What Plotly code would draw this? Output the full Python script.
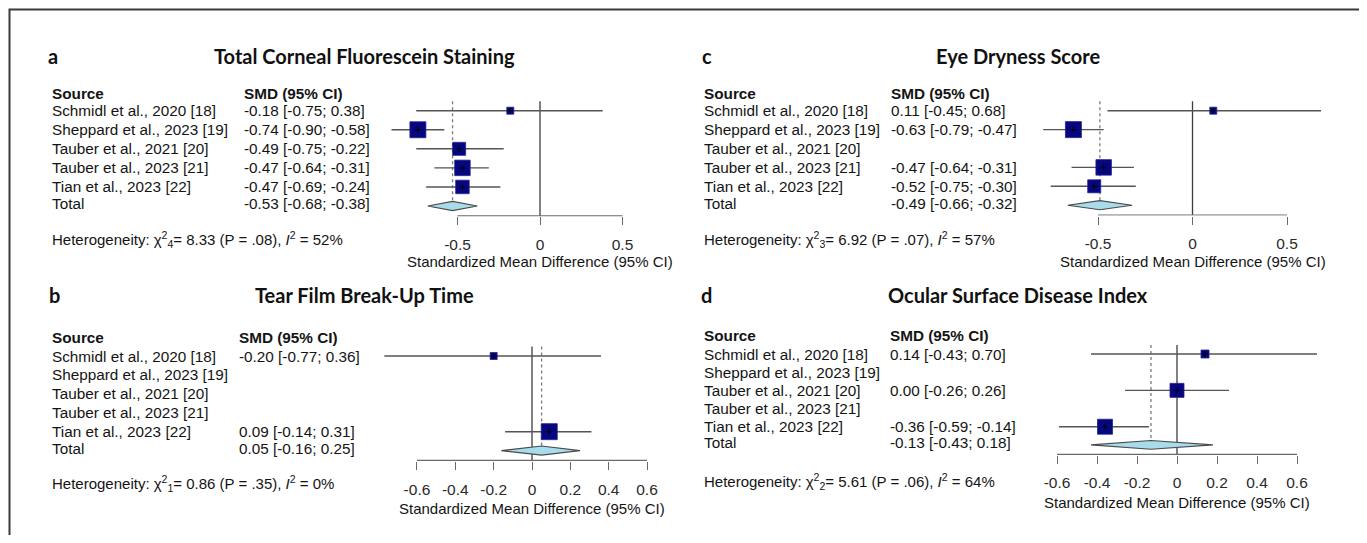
import plotly.graph_objects as go

# page has an 8px body margin: the figure is placed at (8, 8) in the 1367x543 window
OX, OY = 8, 8
W, H = 1359, 527

# ---------------- data ----------------
SOURCES = ["Schmidl et al., 2020 [18]", "Sheppard et al., 2023 [19]",
           "Tauber et al., 2021 [20]", "Tauber et al., 2023 [21]",
           "Tian et al., 2023 [22]"]

PANEL_LETTERS = ["a", "b", "c", "d"]
PANEL_TITLES = ["Total Corneal Fluorescein Staining", "Tear Film Break-Up Time",
                "Eye Dryness Score", "Ocular Surface Disease Index"]

# a: Total Corneal Fluorescein Staining
tcfs_smd = [-0.18, -0.74, -0.49, -0.47, -0.47]
tcfs_lo = [-0.75, -0.90, -0.75, -0.64, -0.69]
tcfs_hi = [0.38, -0.58, -0.22, -0.31, -0.24]
tcfs_total = [-0.53, -0.68, -0.38]

# b: Tear Film Break-Up Time
tbut_smd = [-0.20, None, None, None, 0.09]
tbut_lo = [-0.77, None, None, None, -0.14]
tbut_hi = [0.36, None, None, None, 0.31]
tbut_total = [0.05, -0.16, 0.25]

# c: Eye Dryness Score
eds_smd = [0.11, -0.63, None, -0.47, -0.52]
eds_lo = [-0.45, -0.79, None, -0.64, -0.75]
eds_hi = [0.68, -0.47, None, -0.31, -0.30]
eds_total = [-0.49, -0.66, -0.32]

# d: Ocular Surface Disease Index
osdi_smd = [0.14, None, 0.00, None, -0.36]
osdi_lo = [-0.43, None, -0.26, None, -0.59]
osdi_hi = [0.70, None, 0.26, None, -0.14]
osdi_total = [-0.13, -0.43, 0.18]

het_df = [4, 1, 3, 2]
het_chi2 = ["8.33", "0.86", "6.92", "5.61"]
het_p = [".08", ".35", ".07", ".06"]
het_i2 = [52, 0, 57, 64]

ticks_half = [-0.5, 0, 0.5]
ticks_half_text = ["-0.5", "0", "0.5"]
ticks_fifth = [-0.6, -0.4, -0.2, 0, 0.2, 0.4, 0.6]
ticks_fifth_text = ["-0.6", "-0.4", "-0.2", "0", "0.2", "0.4", "0.6"]

AXIS_TITLE = "Standardized Mean Difference (95% CI)"

DATA = [
    (tcfs_smd, tcfs_lo, tcfs_hi, tcfs_total, ticks_half, ticks_half_text),
    (tbut_smd, tbut_lo, tbut_hi, tbut_total, ticks_fifth, ticks_fifth_text),
    (eds_smd, eds_lo, eds_hi, eds_total, ticks_half, ticks_half_text),
    (osdi_smd, osdi_lo, osdi_hi, osdi_total, ticks_fifth, ticks_fifth_text),
]

# ---------------- layout / style (window pixel geometry) ----------------
GEOM = [
    dict(zero=540, k=165, xr=(-0.95, 0.85), row1=110.7, step=19.06,
         src_x=52, smd_x=244, head_y=93.3,
         title_y=56, title_cx=364, letter_x=48, het_y=239.5, ax_title_y=262,
         sq=[7, 16, 13, 15.5, 13.5]),
    dict(zero=532, k=191.7, xr=(-0.9, 0.75), row1=356, step=18.92,
         src_x=52, smd_x=239, head_y=337.7,
         title_y=295, title_cx=364, letter_x=49, het_y=483, ax_title_y=508,
         sq=[7, 0, 0, 0, 16]),
    dict(zero=1192.5, k=189, xr=(-0.85, 0.88), row1=110.7, step=18.9,
         src_x=704, smd_x=891, head_y=93.3,
         title_y=56, title_cx=1018, letter_x=702, het_y=239.5, ax_title_y=262,
         sq=[7, 16, 0, 15.5, 13]),
    dict(zero=1177, k=200, xr=(-0.66, 0.9), row1=354, step=18.18,
         src_x=704, smd_x=890, head_y=335,
         title_y=295, title_cx=1018, letter_x=701, het_y=481.7, ax_title_y=502,
         sq=[8, 0, 14, 0, 15]),
]

BODY_FONT = "Liberation Sans, Arial, sans-serif"
TITLE_FONT = "Lato, Liberation Sans, sans-serif"
TEXT_PAD = 2  # annotation inner padding
Y_TOP, Y_AXIS = 0.3, 6.52
Y_BOTTOM = 6.55

SQ_COLOR = "#06067e"
CI_COLOR = "#555555"
AXIS_COLOR = "#6a6a6a"
TEXT_COLOR = "#141414"


def px(x):
    return (x - OX) / W


def py(y):
    return 1 - (y - OY) / H


fig = go.Figure()
annotations = []
layout_axes = {}

for i, (smd, lo, hi, total, tv, tt) in enumerate(DATA):
    g = GEOM[i]
    n = "" if i == 0 else str(i + 1)
    xref, yref = "x" + n, "y" + n
    rows = list(range(1, len(SOURCES) + 1))

    L = g["zero"] + g["xr"][0] * g["k"]
    R = g["zero"] + g["xr"][1] * g["k"]
    top_px = g["row1"] + (Y_TOP - 1) * g["step"]
    bot_px = g["row1"] + (Y_BOTTOM - 1) * g["step"]

    layout_axes["xaxis" + n] = dict(
        domain=[px(L), px(R)], range=list(g["xr"]), anchor=yref,
        tickvals=tv, ticktext=tt, ticks="outside", ticklen=8, tickwidth=1.3,
        tickcolor=AXIS_COLOR, showline=False, showgrid=False, zeroline=False,
        tickfont=dict(family=BODY_FONT, size=15.5, color="#2a2a2a"),
        ticklabelstandoff=6, fixedrange=True)
    layout_axes["yaxis" + n] = dict(
        domain=[py(bot_px), py(top_px)], range=[Y_BOTTOM, Y_TOP], anchor=xref,
        visible=False, fixedrange=True)

    common = dict(xaxis=xref, yaxis=yref, showlegend=False, hoverinfo="skip",
                  cliponaxis=False)

    # zero line
    fig.add_trace(go.Scatter(x=[0, 0], y=[0.5, Y_AXIS], mode="lines",
                             line=dict(color="#3d3d3d", width=1.3), **common))
    # pooled estimate dotted line
    fig.add_trace(go.Scatter(x=[total[0], total[0]], y=[0.5, 6.2], mode="lines",
                             line=dict(color="#7a7a7a", width=1.3, dash="dot"),
                             **common))
    # CI lines
    cx, cy = [], []
    for r, l_, h_ in zip(rows, lo, hi):
        if l_ is None:
            continue
        cx += [l_, h_, None]
        cy += [r, r, None]
    fig.add_trace(go.Scatter(x=cx, y=cy, mode="lines",
                             line=dict(color=CI_COLOR, width=1.4), **common))
    # squares
    sx = [s for s in smd if s is not None]
    sy = [r for r, s in zip(rows, smd) if s is not None]
    ss = [g["sq"][j] for j, s in enumerate(smd) if s is not None]
    fig.add_trace(go.Scatter(x=sx, y=sy, mode="markers",
                             marker=dict(symbol="square", size=ss, color=SQ_COLOR,
                                         opacity=1,
                                         line=dict(color="#23238f", width=0.8)),
                             **common))
    fig.add_trace(go.Scatter(x=sx, y=sy, mode="markers",
                             marker=dict(symbol="cross-thin", size=4, opacity=1,
                                         line=dict(color="#000000", width=1)),
                             **common))
    # diamond for total
    est, tlo, thi = total
    dh = 0.24
    fig.add_trace(go.Scatter(x=[tlo, est, thi, est, tlo],
                             y=[6, 6 - dh, 6, 6 + dh, 6], mode="lines",
                             fill="toself", fillcolor="#a9dcea",
                             line=dict(color="#4a4a4a", width=1.1), **common))
    # axis line
    fig.add_trace(go.Scatter(x=[tv[0], tv[-1]], y=[Y_AXIS, Y_AXIS], mode="lines",
                             line=dict(color=AXIS_COLOR, width=1.3), **common))

    # ---------------- text ----------------
    def ann(text, x, y, size=15.3, xanchor="left", family=BODY_FONT,
            color=TEXT_COLOR):
        xx = x - TEXT_PAD if xanchor == "left" else x
        annotations.append(dict(text=text, x=px(xx), y=py(y), xref="paper",
                                yref="paper", xanchor=xanchor, yanchor="middle",
                                showarrow=False,
                                font=dict(family=family, size=size, color=color)))

    ann("<b>" + PANEL_LETTERS[i] + "</b>", g["letter_x"], g["title_y"], size=20,
        family=TITLE_FONT, color="#111111")
    ann("<b>" + PANEL_TITLES[i] + "</b>", g["title_cx"], g["title_y"], size=20,
        xanchor="center", family=TITLE_FONT, color="#111111")
    ann("<b>Source</b>", g["src_x"], g["head_y"])
    ann("<b>SMD (95% CI)</b>", g["smd_x"], g["head_y"])
    for j, name in enumerate(SOURCES):
        yy = g["row1"] + j * g["step"]
        ann(name, g["src_x"], yy)
        if smd[j] is not None:
            ann(f"{smd[j]:.2f} [{lo[j]:.2f}; {hi[j]:.2f}]", g["smd_x"], yy)
    yt = g["row1"] + len(SOURCES) * g["step"] - 2
    ann("Total", g["src_x"], yt)
    ann(f"{total[0]:.2f} [{total[1]:.2f}; {total[2]:.2f}]", g["smd_x"], yt)
    ann(f"Heterogeneity: χ<sup>2</sup><sub>{het_df[i]}</sub>= {het_chi2[i]} "
        f"(P = {het_p[i]}), <i>I</i><sup>2</sup> = {het_i2[i]}%",
        g["src_x"], g["het_y"], size=15)
    ann(AXIS_TITLE, g["zero"], g["ax_title_y"], size=15, xanchor="center")

fig.update_layout(
    width=W, height=H, autosize=False,
    margin=dict(l=0, r=0, t=0, b=0),
    paper_bgcolor="white", plot_bgcolor="rgba(0,0,0,0)",
    annotations=annotations,
    shapes=[dict(type="rect", xref="paper", yref="paper",
                 x0=px(9.5), x1=px(1365), y0=py(620), y1=py(9.5),
                 line=dict(color="#3a3a3a", width=2), fillcolor="rgba(0,0,0,0)")],
    **layout_axes,
)

fig.write_html("out.html")
